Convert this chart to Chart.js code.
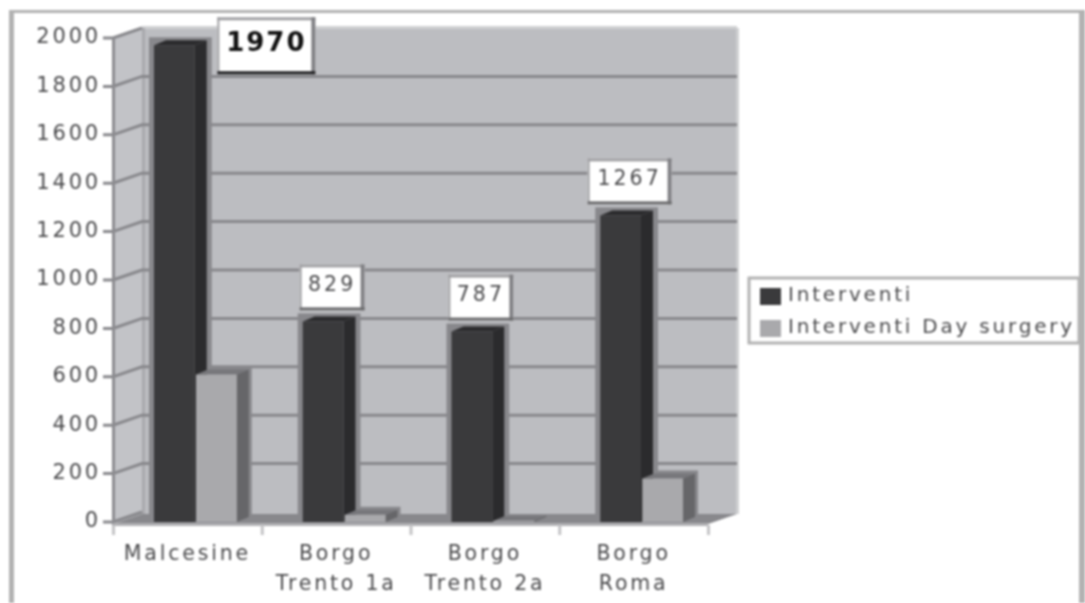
<!DOCTYPE html>
<html>
<head>
<meta charset="utf-8">
<style>
  html, body { margin: 0; padding: 0; background: #fff; }
  #wrap { width: 1085px; height: 603px; }
  #chart { filter: blur(0.9px); }
</style>
<script src="https://cdn.jsdelivr.net/npm/chart.js@4"></script>
</head>
<body>
<div id="wrap"><canvas id="chart" width="1085" height="603"></canvas></div>
<script>
const categories = [['Malcesine'], ['Borgo', 'Trento 1a'], ['Borgo', 'Trento 2a'], ['Borgo', 'Roma']];
const interventi = [1970, 829, 787, 1267];
const daySurgery = [610, 30, 5, 180];
const seriesNames = ['Interventi', 'Interventi Day surgery'];
const dataLabels = ['1970', '829', '787', '1267'];

// depth of the fake 3D box
const DEPTH_X = 29, DEPTH_Y = 10, SHIFT = 8;
const BAR_DX = 12, BAR_DY = 5;
const GRID = '#88888c';

function poly(ctx, pts, fill) {
    ctx.fillStyle = fill;
    ctx.beginPath();
    pts.forEach((p, i) => i ? ctx.lineTo(p[0], p[1]) : ctx.moveTo(p[0], p[1]));
    ctx.closePath();
    ctx.fill();
}

function barSides(ctx, meta, side, topFace) {
    meta.data.forEach(b => {
        const l = b.x - b.width / 2, r = b.x + b.width / 2, t = b.y, bt = b.base;
        poly(ctx, [[r, t], [r + BAR_DX, t - BAR_DY], [r + BAR_DX, bt - BAR_DY], [r, bt]], side);
        poly(ctx, [[l, t], [l + BAR_DX, t - BAR_DY], [r + BAR_DX, t - BAR_DY], [r, t]], topFace);
    });
}

const box3d = {
    id: 'box3d',
    beforeDraw(chart) {
        const ctx = chart.ctx;
        ctx.letterSpacing = '2.8px';
        // outer frame
        ctx.fillStyle = '#b2b2b2';
        ctx.fillRect(9, 10, 1076, 3);
        ctx.fillRect(9, 10, 5, 593);
        ctx.fillRect(1079, 10, 6, 593);
    },
    beforeDatasetsDraw(chart) {
        const ctx = chart.ctx, x = chart.scales.x, y = chart.scales.y;
        const left = x.left - SHIFT, right = x.right - SHIFT;
        const top = y.getPixelForValue(2000), bot = y.getPixelForValue(0) + 2;
        // walls
        poly(ctx, [[left, top], [left + DEPTH_X, top - DEPTH_Y], [left + DEPTH_X, bot - DEPTH_Y], [left, bot]], '#c2c3c7');
        ctx.fillStyle = '#bcbdc1';
        ctx.fillRect(left + DEPTH_X, top - DEPTH_Y, right - left, bot - top);
        ctx.fillStyle = '#cfd0d2';
        ctx.fillRect(left + DEPTH_X, top - DEPTH_Y - 2, right - left, 3);
        ctx.fillRect(right + DEPTH_X - 1, top - DEPTH_Y, 3, bot - top);
        ctx.fillStyle = '#a9a9ad';
        ctx.fillRect(left + DEPTH_X, top - DEPTH_Y, 3, bot - top);
        // floor
        poly(ctx, [[left, bot], [left + DEPTH_X, bot - DEPTH_Y], [right + DEPTH_X, bot - DEPTH_Y], [right, bot]], GRID);
        // grid lines, wall part then side part then tick
        ctx.strokeStyle = GRID;
        ctx.lineWidth = 3;
        y.ticks.forEach(t => {
            const py = y.getPixelForValue(t.value);
            ctx.beginPath();
            ctx.moveTo(left - 10, py);
            ctx.lineTo(left, py);
            ctx.lineTo(left + DEPTH_X, py - DEPTH_Y);
            if (t.value > 0 && t.value < 2000) ctx.lineTo(right + DEPTH_X, py - DEPTH_Y);
            ctx.stroke();
        });
        // front edges
        ctx.fillStyle = '#8c8c90';
        ctx.fillRect(left - 1, top, 3, bot - top + 2);
        ctx.fillStyle = '#b0b0b3';
        ctx.fillRect(left, bot - 1, right - left, 3);
        // category ticks
        ctx.fillStyle = '#c4c4c6';
        for (let i = 0; i <= categories.length; i++) {
            ctx.fillRect(left + (right - left) * i / categories.length - 1, bot + 1, 3, 10);
        }
        // grey halo behind bars
        [0, 1].forEach(d => chart.getDatasetMeta(d).data.forEach(b => {
            if (b.height < 2) return;
            const pad = d === 0 ? 5 : 3;
            ctx.fillStyle = GRID;
            ctx.fillRect(b.x - b.width / 2 - pad, b.y - BAR_DY - 3, b.width + BAR_DX + 2 * pad, b.height + BAR_DY + 3);
        }));
    },
    beforeDatasetDraw(chart, args) {
        // index 0 is painted last by the library, so all side faces go in before the light fronts
        if (args.index !== 1) return;
        barSides(chart.ctx, chart.getDatasetMeta(0), '#2b2b2d', '#2b2b2d');
        barSides(chart.ctx, args.meta, '#666669', '#77777b');
    },
    afterDatasetsDraw(chart) {
        const ctx = chart.ctx;
        // value labels in white boxes
        chart.getDatasetMeta(0).data.forEach((b, i) => {
            const big = i === 0;
            const w = big ? 98 : (dataLabels[i].length === 4 ? 84 : 65);
            const h = big ? 57 : 46;
            const cx = big ? b.x + 92 : b.x + 9;
            const bottom = big ? b.y + 29 : b.y - 11;
            ctx.fillStyle = '#fff';
            ctx.fillRect(cx - w / 2, bottom - h, w, h);
            ctx.fillStyle = '#a0a0a3';
            ctx.fillRect(cx - w / 2, bottom - h, w, 3);
            ctx.fillRect(cx - w / 2, bottom - h, 2, h);
            ctx.fillStyle = '#808084';
            ctx.fillRect(cx + w / 2 - 4, bottom - h, 4, h);
            ctx.fillStyle = big ? '#1c1c1e' : '#6a6a6c';
            ctx.fillRect(cx - w / 2, bottom - 3, w, 3);
            ctx.fillStyle = big ? '#111' : '#4a4a4c';
            ctx.font = (big ? 'bold 26px' : '20.5px') + ' "DejaVu Sans"';
            ctx.letterSpacing = big ? '2px' : '3px';
            ctx.textAlign = 'center';
            ctx.textBaseline = 'middle';
            ctx.fillText(dataLabels[i], cx, bottom - h / 2 - 2);
        });
        // legend
        ctx.fillStyle = '#fff';
        ctx.strokeStyle = '#b2b2b2';
        ctx.lineWidth = 3;
        ctx.strokeRect(749, 278, 330, 65);
        ctx.font = '20px "DejaVu Sans"';
        ctx.letterSpacing = '2.8px';
        ctx.textAlign = 'left';
        ctx.textBaseline = 'middle';
        seriesNames.forEach((n, i) => {
            const ly = 296 + i * 32;
            ctx.fillStyle = chart.data.datasets[i].backgroundColor;
            ctx.fillRect(760, ly - 8, 21, 17);
            ctx.fillStyle = '#4a4a4c';
            ctx.fillText(n, 788, ly);
        });
        ctx.letterSpacing = '0px';
    }
};

new Chart(document.getElementById('chart'), {
    type: 'bar',
    data: {
        labels: categories,
        datasets: [
            { label: seriesNames[0], data: interventi, backgroundColor: '#3a3a3c' },
            { label: seriesNames[1], data: daySurgery, backgroundColor: '#a9a9ac' }
        ]
    },
    options: {
        responsive: false,
        animation: false,
        layout: { padding: { top: 38, right: 369, left: 0, bottom: 0 } },
        categoryPercentage: 0.565,
        barPercentage: 0.97,
        plugins: { legend: { display: false }, tooltip: { enabled: false } },
        scales: {
            x: {
                grid: { display: false },
                border: { display: false },
                afterFit(s) { s.height = 81; },
                ticks: {
                    labelOffset: -SHIFT,
                    maxRotation: 0,
                    autoSkip: false,
                    padding: 10,
                    color: '#4a4a4c',
                    font: { family: 'DejaVu Sans', size: 20.5, lineHeight: 1.46 }
                }
            },
            y: {
                min: 0,
                max: 2000,
                grid: { display: false },
                border: { display: false },
                afterFit(s) { s.width = 121; },
                ticks: {
                    stepSize: 200,
                    padding: 12,
                    color: '#4a4a4c',
                    font: { family: 'DejaVu Sans', size: 21 },
                    callback: v => String(v)
                }
            }
        }
    },
    plugins: [box3d]
});
</script>
</body>
</html>
